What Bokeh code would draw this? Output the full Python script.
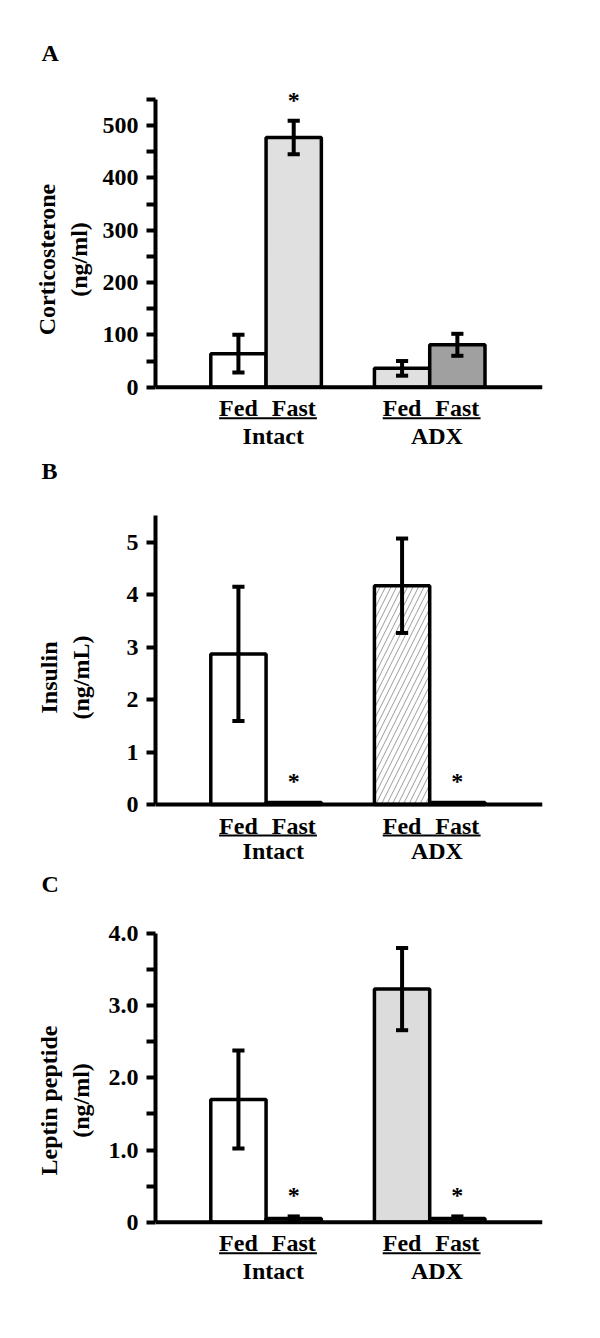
from bokeh.plotting import figure
from bokeh.models import Range1d, FixedTicker, Span, ColumnDataSource
from bokeh.layouts import column
from bokeh.core.properties import value
from bokeh.embed import file_html
from bokeh.resources import INLINE

# ---------------- data ----------------
groups = ["Intact", "ADX"]
conditions = ["Fed", "Fast"]
panel_letters = ["A", "B", "C"]

cort_mean = [64, 477, 36, 81]
cort_sem = [36, 32, 14, 21]
cort_sig = [False, True, False, False]
cort_ticks = [0, 100, 200, 300, 400, 500]
cort_minor = [50, 150, 250, 350, 450, 550]
cort_tick_labels = ["0", "100", "200", "300", "400", "500"]

ins_mean = [2.87, 0.04, 4.17, 0.04]
ins_sem = [1.28, 0.0, 0.90, 0.0]
ins_sig = [False, True, False, True]
ins_ticks = [0, 1, 2, 3, 4, 5]
ins_minor = []
ins_tick_labels = ["0", "1", "2", "3", "4", "5"]

lep_mean = [1.70, 0.05, 3.23, 0.05]
lep_sem = [0.68, 0.03, 0.57, 0.03]
lep_sig = [False, True, False, True]
lep_ticks = [0, 1, 2, 3, 4]
lep_minor = [0.5, 1.5, 2.5, 3.5]
lep_tick_labels = ["0", "1.0", "2.0", "3.0", "4.0"]

# ---------------- styling / layout ----------------
FONT = "Liberation Serif"
FS = "24px"
FRAME_W = 387
LEFT_BORDER = 155
X_END = 7.0
XPU = FRAME_W / X_END           # pixels per x unit
GROUP_STEP = 2.96
FIRST_X = 1.5
bar_x = [FIRST_X + g * GROUP_STEP + k for g in range(len(groups)) for k in range(len(conditions))]
group_x = [FIRST_X + g * GROUP_STEP + 0.5 + 0.13 for g in range(len(groups))]


def panel(letter, ylabel, means, sems, sig, fills, hatches, ticks, minor, tick_labels,
          axis_top, ppu, top_border, frame_h, bottom_border, base_from_top, label_standoff,
          title_standoff, group_offset):
    y_end = base_from_top / ppu
    y_start = -(frame_h - base_from_top) / ppu

    def dy(px):
        return px / ppu

    p = figure(frame_width=FRAME_W, frame_height=frame_h,
               min_border_left=LEFT_BORDER, min_border_right=50,
               min_border_top=top_border, min_border_bottom=bottom_border,
               x_range=Range1d(0, X_END), y_range=Range1d(y_start, y_end),
               x_axis_location=None, toolbar_location=None, tools="",
               output_backend="svg")
    p.outline_line_color = None
    p.grid.visible = False
    p.background_fill_color = "white"
    p.border_fill_color = "white"

    # panel letter as the plot title
    p.title.text = letter
    p.title.align = "left"
    p.title.offset = 41 - LEFT_BORDER
    p.title.standoff = title_standoff
    p.title.text_font = FONT
    p.title.text_font_size = FS
    p.title.text_font_style = "bold"
    p.title.text_color = "black"
    p.title.text_line_height = 1.0

    ax = p.yaxis[0]
    ax.ticker = FixedTicker(ticks=ticks, minor_ticks=minor)
    ax.bounds = (0, axis_top)
    ax.axis_line_width = 4
    ax.axis_line_color = "black"
    ax.major_tick_line_width = 4
    ax.major_tick_out = 9
    ax.major_tick_in = 0
    ax.minor_tick_line_width = 4
    ax.minor_tick_out = 9
    ax.minor_tick_in = 0
    ax.major_label_overrides = {t: lab for t, lab in zip(ticks, tick_labels)}
    ax.major_label_text_font = FONT
    ax.major_label_text_font_size = FS
    ax.major_label_text_font_style = "bold"
    ax.major_label_text_color = "black"
    ax.major_label_standoff = 8
    ax.axis_label = ylabel
    ax.axis_label_text_font = FONT
    ax.axis_label_text_font_size = FS
    ax.axis_label_text_font_style = "bold"
    ax.axis_label_text_color = "black"
    ax.axis_label_standoff = label_standoff

    # baseline
    p.add_layout(Span(location=0, dimension="width", line_color="black", line_width=4))

    src = ColumnDataSource(dict(x=bar_x, top=means, fill=fills, hatch=hatches))
    p.vbar(x="x", top="top", bottom=0, width=1.0, source=src,
           fill_color="fill", line_color="black", line_width=3.5,
           hatch_pattern="hatch", hatch_color="#707070", hatch_weight=0.7, hatch_scale=11)

    # error bars
    ex = [x for x, s in zip(bar_x, sems) if s > 0]
    lo = [m - s for m, s in zip(means, sems) if s > 0]
    hi = [m + s for m, s in zip(means, sems) if s > 0]
    cap = 0.11
    p.segment(x0=ex, y0=lo, x1=ex, y1=hi, line_color="black", line_width=4)
    p.segment(x0=[x - cap for x in ex], y0=hi, x1=[x + cap for x in ex], y1=hi,
              line_color="black", line_width=4)
    p.segment(x0=[x - cap for x in ex], y0=lo, x1=[x + cap for x in ex], y1=lo,
              line_color="black", line_width=4)

    # significance asterisks
    sx = [x for x, f in zip(bar_x, sig) if f]
    sy = [m + s + dy(21) for m, s, f in zip(means, sems, sig) if f]
    p.text(x=sx, y=sy, text=["*"] * len(sx), text_font=value(FONT),
           text_font_style="bold", text_font_size=FS, text_align="center",
           text_baseline="alphabetic", text_color="black")

    # category labels
    p.text(x=bar_x, y=[dy(-21)] * len(bar_x), text=conditions * len(groups),
           text_font=value(FONT), text_font_style="bold", text_font_size=FS,
           text_align="center", text_baseline="middle", text_color="black")
    p.segment(x0=[bar_x[2 * g] - 0.35 for g in range(len(groups))],
              x1=[bar_x[2 * g + 1] + 0.42 for g in range(len(groups))],
              y0=[dy(-31)] * len(groups), y1=[dy(-31)] * len(groups),
              line_color="black", line_width=2)
    p.text(x=group_x, y=[dy(-group_offset)] * len(groups), text=groups,
           text_font=value(FONT), text_font_style="bold", text_font_size=FS,
           text_align="center", text_baseline="middle", text_color="black")
    return p


pA = panel(panel_letters[0], "Corticosterone\n(ng/ml)", cort_mean, cort_sem, cort_sig,
           ["white", "#e0e0e0", "#e0e0e0", "#a0a0a0"], [" ", " ", " ", " "],
           cort_ticks, cort_minor, cort_tick_labels, 550, 0.5234,
           70, 378, 0, 316.7, 8, 9, 49)
pB = panel(panel_letters[1], "Insulin\n(ng/mL)", ins_mean, ins_sem, ins_sig,
           ["white", "white", "white", "white"], [" ", " ", "/", " "],
           ins_ticks, ins_minor, ins_tick_labels, 5.5, 52.46,
           42, 374, 0, 314.0, 30, 14, 46)
pC = panel(panel_letters[2], "Leptin peptide\n(ng/ml)", lep_mean, lep_sem, lep_sig,
           ["white", "white", "#dcdcdc", "white"], [" ", " ", " ", " "],
           lep_ticks, lep_minor, lep_tick_labels, 4.0, 72.18,
           36, 400, 30, 321.7, 12, 8, 49)

layout = column(pA, pB, pC, spacing=0)
open("out.html", "w").write(file_html(layout, INLINE))
